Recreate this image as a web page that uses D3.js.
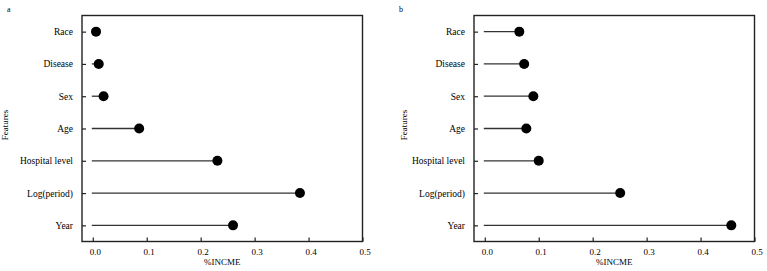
<!DOCTYPE html>
<html>
<head>
<meta charset="utf-8">
<title>Feature importance</title>
<script src="https://d3js.org/d3.v7.min.js"></script>
<style>
 body { margin: 0; background: #fff; }
 svg text { font-family: "Liberation Serif", "Times New Roman", serif; fill: #000; }
 .frame { fill: none; stroke: #222; stroke-width: 1.4; }
 .stem { stroke: #333; stroke-width: 1.3; }
 .dot { fill: #000; }
</style>
</head>
<body>
<div id="chart"></div>
<script>
var features = ["Race", "Disease", "Sex", "Age", "Hospital level", "Log(period)", "Year"];
var valuesA = [0.006, 0.011, 0.020, 0.086, 0.231, 0.384, 0.260];
var valuesB = [0.064, 0.073, 0.090, 0.077, 0.100, 0.251, 0.457];
var xTicks = [0, 0.1, 0.2, 0.3, 0.4, 0.5];

var svg = d3.select("#chart").append("svg")
  .attr("width", 767)
  .attr("height", 271);

function panel(tag, values, left, right, labelX, tagX) {
  var top = 15.5, bottom = 241.5;
  var x = d3.scaleLinear().domain([-0.02, 0.5]).range([left, right]);
  var y = d3.scalePoint().domain(features).range([top, bottom]).padding(0.5);
  var g = svg.append("g");

  g.append("text")
    .attr("x", tagX).attr("y", 12)
    .style("font-size", "8px")
    .text(tag);

  g.append("rect").attr("class", "frame")
    .attr("x", left).attr("y", top)
    .attr("width", right - left).attr("height", bottom - top);

  var xa = g.append("g")
    .attr("transform", "translate(0," + bottom + ")")
    .call(d3.axisBottom(x).tickValues(xTicks).tickFormat(d3.format(".1f"))
      .tickSizeInner(-4).tickSizeOuter(0).tickPadding(7));
  xa.select(".domain").remove();
  xa.selectAll("line").attr("stroke", "#222").attr("stroke-width", 1.2);
  xa.selectAll("text").style("font-size", "9px").attr("fill", "#000")
    .attr("dx", "2");

  var ya = g.append("g")
    .attr("transform", "translate(" + left + ",0)")
    .call(d3.axisLeft(y).tickSizeInner(-4).tickSizeOuter(0).tickPadding(9));
  ya.select(".domain").remove();
  ya.selectAll("line").attr("stroke", "#222").attr("stroke-width", 1.2);
  ya.selectAll("text").style("font-size", "9.5px").attr("fill", "#000");

  g.append("text")
    .attr("x", (left + right) / 2).attr("y", 265)
    .attr("text-anchor", "middle")
    .style("font-size", "9px")
    .text("%INCME");

  g.append("text")
    .attr("transform", "translate(" + labelX + "," + 125 + ") rotate(-90)")
    .attr("text-anchor", "middle")
    .style("font-size", "9px")
    .text("Features");

  g.selectAll(".stem").data(values).enter().append("line")
    .attr("class", "stem")
    .attr("x1", x(0) - 1)
    .attr("x2", function(d) { return x(d); })
    .attr("y1", function(d, i) { return y(features[i]); })
    .attr("y2", function(d, i) { return y(features[i]); });

  g.selectAll(".dot").data(values).enter().append("circle")
    .attr("class", "dot")
    .attr("cx", function(d) { return x(d); })
    .attr("cy", function(d, i) { return y(features[i]); })
    .attr("r", 5);
}

panel("a", valuesA, 82, 362.5, 7.5, 7);
panel("b", valuesB, 474, 754.5, 406.5, 399);
</script>
</body>
</html>
